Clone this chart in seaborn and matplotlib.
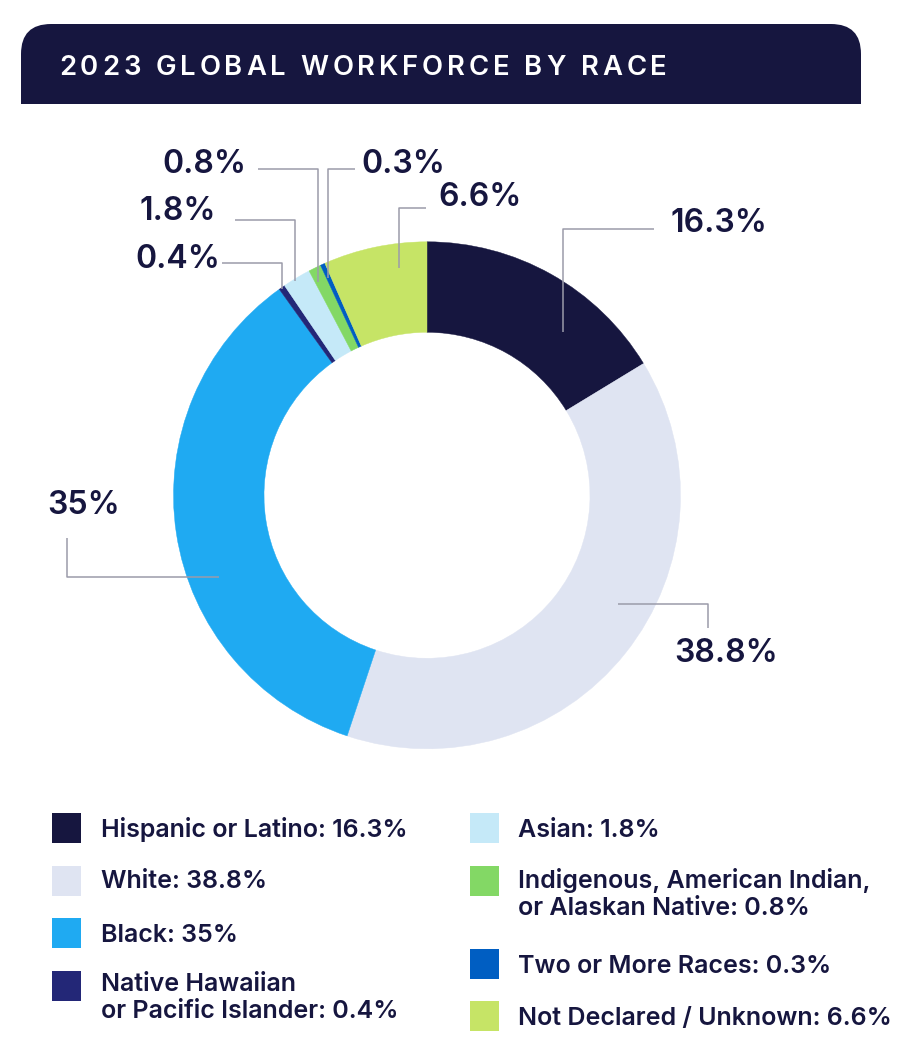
import matplotlib
matplotlib.use("Agg")
import matplotlib.pyplot as plt
from matplotlib.patches import FancyBboxPatch, Rectangle
import numpy as np
import seaborn as sns

# ---------------- data ----------------
title = "2023 GLOBAL WORKFORCE BY RACE"
categories = ["Hispanic or Latino", "White", "Black",
              "Native Hawaiian\nor Pacific Islander", "Asian",
              "Indigenous, American Indian,\nor Alaskan Native",
              "Two or More Races", "Not Declared / Unknown"]
values = [16.3, 38.8, 35, 0.4, 1.8, 0.8, 0.3, 6.6]
colors = ["#16163F", "#DFE4F2", "#1FAAF2", "#232777",
          "#C5E9F8", "#83D865", "#005EC2", "#C6E466"]

# ---------------- layout (pixels) ----------------
W, H = 916, 1059
CX, CY, R, RW = 427, 495.3, 253.5, 90.5
NAVY = "#16163F"
LINE = "#9B9BAA"

# per slice: anchor fraction within wedge, anchor radius, leader mode,
# leader coords (knee/end), label left x, label baseline y
label_layout = [
    (0.322, 212.0, "v", 229.3, 654.0, 671.0, 231.7),
    (0.563, 220.0, "h", 707.7, 627.7, 674.0, 661.7),
    (0.602, 223.6, "h", 66.7, 538.0, 47.0, 514.0),
    (0.600, 252.0, "v", 263.3, 221.7, 135.5, 267.7),
    (0.606, 252.0, "v", 220.3, 235.0, 139.5, 220.0),
    (0.740, 239.7, "v", 169.3, 258.3, 162.0, 173.3),
    (0.650, 238.4, "v", 169.3, 355.0, 361.0, 173.3),
    (0.293, 228.7, "v", 208.3, 425.7, 438.0, 205.7),
]
# legend: square x, square top y, text x, text baselines (per line)
legend_layout = [
    (52, 813, 101, [837]),
    (52, 866, 101, [888]),
    (52, 918, 101, [942]),
    (52, 971, 101, [991, 1018]),
    (470, 813, 518, [837]),
    (470, 866, 518, [888, 915]),
    (470, 949, 518, [973]),
    (470, 1001, 518, [1025]),
]
SQ_W, SQ_H = 29, 30

sns.set_theme(style="white")
plt.rcParams["font.family"] = ["Inter", "DejaVu Sans"]
palette = sns.color_palette(colors)

fig = plt.figure(figsize=(W / 100, H / 100), dpi=100)
ax = fig.add_axes([0, 0, 1, 1])


def Y(y):
    return H - y


PX = 0.72  # points per pixel at 100 dpi

# ---------------- banner ----------------
bx0, bx1, by0, by1, brad = 21, 861, 24, 104, 30
ax.add_patch(FancyBboxPatch((bx0 + brad, Y(by1) + brad), (bx1 - bx0) - 2 * brad,
                            (by1 - by0) - 2 * brad,
                            boxstyle=f"round,pad={brad}", fc=NAVY, ec="none"))
ax.add_patch(Rectangle((bx0, Y(by1)), bx1 - bx0, (by1 - by0) / 2, fc=NAVY, ec="none"))

# ---------------- donut ----------------
wedges, _ = ax.pie(values, colors=palette, startangle=90, counterclock=False,
                   center=(CX, Y(CY)), radius=R,
                   wedgeprops=dict(width=RW, linewidth=0),
                   frame=True)
for w in wedges:
    w.set_edgecolor(w.get_facecolor())
    w.set_linewidth(0.3)
ax.set_xlim(0, W)
ax.set_ylim(0, H)
ax.set_aspect("equal")
ax.axis("off")

for w, v, (frac, ra, mode, a, b, tx, ty) in zip(wedges, values, label_layout):
    ang = np.deg2rad(w.theta1 + frac * (w.theta2 - w.theta1))
    px = CX + ra * np.cos(ang)
    py = Y(CY) + ra * np.sin(ang)
    if mode == "v":
        xs = [px, px, b]
        ys = [py, Y(a), Y(a)]
    else:
        xs = [px, a, a]
        ys = [py, py, Y(b)]
    ax.plot(xs, ys, color=LINE, lw=1.1, solid_capstyle="butt", zorder=3)
    ax.text(tx, Y(ty), f"{v:g}%", fontsize=32 * PX, color=NAVY,
            ha="left", va="baseline", fontweight="semibold")

# ---------------- legend ----------------
for cat, v, col, (sx, sy, tx, bls) in zip(categories, values, palette, legend_layout):
    ax.add_patch(Rectangle((sx, Y(sy + SQ_H)), SQ_W, SQ_H, fc=col, ec="none"))
    lines = f"{cat}: {v:g}%".split("\n")
    for ln, bl in zip(lines, bls):
        ax.text(tx, Y(bl), ln, fontsize=25 * PX, color=NAVY, ha="left",
                va="baseline", fontweight="semibold")

# ---------------- title with letter spacing ----------------
renderer = fig.canvas.get_renderer()
t_fs = 27.5 * PX
t_x0, t_x1, t_base = 59, 667, 75
chars = list(title)
widths = []
for ch in chars:
    if ch == " ":
        widths.append(None)
        continue
    t = ax.text(0, 0, ch, fontsize=t_fs, fontweight="semibold")
    bb = t.get_window_extent(renderer)
    widths.append(bb.width)
    t.remove()
space_w = 0.25 * 27.5
widths = [space_w if w is None else w for w in widths]
gap = ((t_x1 - t_x0) - sum(widths)) / (len(chars) - 1)
x = t_x0
for ch, wdt in zip(chars, widths):
    if ch != " ":
        ax.text(x, Y(t_base), ch, fontsize=t_fs, color="white", ha="left",
                va="baseline", fontweight="semibold")
    x += wdt + gap

fig.savefig("out.png", dpi=100, facecolor="white")
